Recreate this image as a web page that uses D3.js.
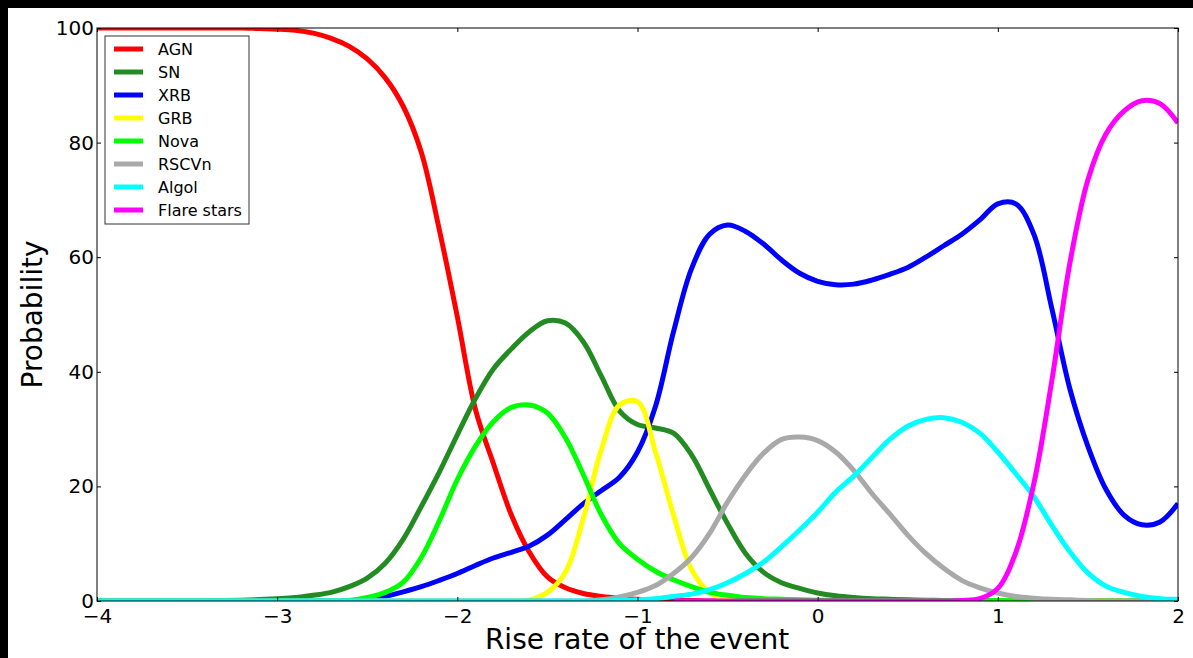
<!DOCTYPE html>
<html>
<head>
<meta charset="utf-8">
<script src="https://cdn.jsdelivr.net/npm/d3@7"></script>
<style>
  html, body { margin: 0; padding: 0; background: #000; }
  svg { display: block; }
  text { font-family: "DejaVu Sans", sans-serif; fill: #000; }
</style>
</head>
<body>
<svg width="1193" height="658"></svg>
<script>
// sample positions on the rise-rate axis
var xs = [-4.0,-3.9,-3.8,-3.7,-3.6,-3.5,-3.4,-3.3,-3.2,-3.1,
          -3.0,-2.9,-2.8,-2.7,-2.6,-2.5,-2.4,-2.3,-2.2,-2.1,
          -2.0,-1.9,-1.8,-1.7,-1.6,-1.5,-1.4,-1.3,-1.2,-1.1,
          -1.0,-0.9,-0.8,-0.7,-0.6,-0.5,-0.4,-0.3,-0.2,-0.1,
           0.0, 0.1, 0.2, 0.3, 0.4, 0.5, 0.6, 0.7, 0.8, 0.9,
           1.0, 1.1, 1.2, 1.3, 1.4, 1.5, 1.6, 1.7, 1.8, 1.9, 2.0];

var agn = [100,100,100,100,100,100,100,100,100,99.9,
           99.8,99.6,99.1,98.2,96.8,94.6,91.3,86.3,78.3,64.8,
           49.6,33.5,24,15,8.5,4.2,2.3,1.3,0.8,0.5,
           0.3,0.2,0.1,0.1,0,0,0,0,0,0,
           0,0,0,0,0,0,0,0,0,0,
           0,0,0,0,0,0,0,0,0,0,0];

var sn = [0,0,0,0,0,0,0.05,0.1,0.15,0.25,
          0.4,0.6,1.0,1.5,2.5,4,6.6,10.8,16.5,22.5,
          29,35.3,40.5,44,47,48.9,48.5,45.2,39.2,33.2,
          30.8,30.2,29.3,25.5,19.5,13.5,8.3,5,3.2,2.2,
          1.4,0.9,0.6,0.4,0.3,0.2,0.15,0.1,0.1,0.05,
          0,0,0,0,0,0,0,0,0,0,0];

var xrb = [0,0,0,0,0,0,0,0,0,0,
           0,0,0,0,0,0.2,0.8,1.6,2.5,3.6,
           4.8,6.2,7.5,8.5,9.6,11.5,14.2,17,19.3,21.6,
           26,34,47,58,64,65.6,64.5,62.3,59.5,57.2,
           55.8,55.2,55.3,56,57,58.2,60,62,64,66.5,
           69.3,69.3,64,51,37,27,19.5,15,13.3,13.8,17];

var grb = [0,0,0,0,0,0,0,0,0,0,
           0,0,0,0,0,0,0,0,0,0,
           0,0,0,0,0.2,1.5,5,14.5,26.5,34.2,
           34.8,26,15,5.5,1.5,0.3,0,0,0,0,
           0,0,0,0,0,0,0,0,0,0,
           0,0,0,0,0,0,0,0,0,0,0];

var nova = [0,0,0,0,0,0,0,0,0,0,
            0,0,0,0,0.1,0.6,1.5,3.3,7.6,14,
            21.2,27,31.3,33.8,34.2,32.8,28.5,22,15,10,
            7.3,5.2,3.7,2.5,1.5,1,0.6,0.4,0.3,0.2,
            0.15,0.1,0.1,0.1,0.1,0.1,0.1,0.1,0.1,0.1,
            0.1,0.05,0,0,0,0,0,0,0,0,0];

var rscvn = [0,0,0,0,0,0,0,0,0,0,
             0,0,0,0,0,0,0,0,0,0,
             0,0,0,0,0,0,0,0,0.2,0.7,
             1.5,2.7,4.8,7.6,11.8,17.3,22,25.8,28.2,28.6,
             28,26,22.8,18.8,15.2,11.5,8.3,5.7,3.6,2.3,
             1.4,0.8,0.5,0.3,0.2,0.1,0,0,0,0,0];

var algol = [0,0,0,0,0,0,0,0,0,0,
             0,0,0,0,0,0,0,0,0,0,
             0,0,0,0,0,0,0,0,0,0.1,
             0.2,0.4,0.8,1.2,2,3.2,4.8,6.8,9.5,12.4,
             15.5,19,21.8,25,28.2,30.5,31.7,32,31.2,29.3,
             26,22.2,18.2,13.2,8.6,4.9,2.6,1.5,0.8,0.4,0.3];

// flare stars curve only covers the right part of the range
var flare = [null,null,null,null,null,null,null,null,null,null,
             null,null,null,null,null,null,null,null,null,null,
             null,null,null,null,null,null,null,null,null,null,
             null,null,0,0,0,0,0,0,0,0,
             0,0,0,0,0,0,0,0,0.1,0.4,
             2.2,8.5,20.5,38.5,59,73.5,81.5,85.5,87.3,86.8,83.4];

var seriesNames = ["AGN", "SN", "XRB", "GRB", "Nova", "RSCVn", "Algol", "Flare stars"];
var seriesValues = [agn, sn, xrb, grb, nova, rscvn, algol, flare];
var seriesColors = ["#ff0000", "#228b22", "#0000ff", "#ffff00", "#00ff00", "#a9a9a9", "#00ffff", "#ff00ff"];

var xTicks = [-4, -3, -2, -1, 0, 1, 2];
var yTicks = [0, 20, 40, 60, 80, 100];

var svg = d3.select("svg"),
    margin = {top: 28, right: 15, bottom: 57, left: 97},
    width = +svg.attr("width") - margin.left - margin.right,
    height = +svg.attr("height") - margin.top - margin.bottom;

// figure background (black border on top/left like the source)
svg.append("rect").attr("x", 8).attr("y", 8)
    .attr("width", 1193 - 8).attr("height", 658 - 8)
    .attr("fill", "#fff");

var g = svg.append("g").attr("transform", "translate(" + margin.left + "," + margin.top + ")");

var scaleX = d3.scaleLinear().domain([-4, 2]).range([0, width]),
    scaleY = d3.scaleLinear().domain([0, 100]).range([height, 0]);

g.append("clipPath").attr("id", "plotClip")
    .append("rect").attr("width", width).attr("height", height);

var data = seriesNames.map(function (name, i) {
    return {
        id: name,
        color: seriesColors[i],
        values: xs.map(function (x, j) { return {x: x, y: seriesValues[i][j]}; })
    };
});

var line = d3.line()
    .defined(function (d) { return d.y !== null; })
    .curve(d3.curveCatmullRom.alpha(0.5))
    .x(function (d) { return scaleX(d.x); })
    .y(function (d) { return scaleY(d.y); });

g.append("g").attr("clip-path", "url(#plotClip)")
    .selectAll(".series")
    .data(data)
    .enter().append("path")
    .attr("class", "series")
    .attr("fill", "none")
    .attr("stroke", function (d) { return d.color; })
    .attr("stroke-width", 5)
    .attr("stroke-linejoin", "round")
    .attr("d", function (d) { return line(d.values); });

// frame
g.append("rect").attr("width", width).attr("height", height)
    .attr("fill", "none").attr("stroke", "#000").attr("stroke-width", 1);

var fmt = function (d) { return d < 0 ? "\u2212" + Math.abs(d) : "" + d; };

// axes with inward ticks
var axisBottom = g.append("g").attr("transform", "translate(0," + height + ")")
    .call(d3.axisBottom(scaleX).tickValues(xTicks).tickSize(-4).tickPadding(7).tickFormat(fmt));
var axisTop = g.append("g")
    .call(d3.axisTop(scaleX).tickValues(xTicks).tickSize(-4).tickFormat(""));
var axisLeft = g.append("g")
    .call(d3.axisLeft(scaleY).tickValues(yTicks).tickSize(-4).tickPadding(3).tickFormat(fmt));
var axisRight = g.append("g").attr("transform", "translate(" + width + ",0)")
    .call(d3.axisRight(scaleY).tickValues(yTicks).tickSize(-4).tickFormat(""));

[axisBottom, axisTop, axisLeft, axisRight].forEach(function (a) {
    a.select(".domain").remove();
    a.selectAll("line").attr("stroke", "#000");
    a.selectAll("text").style("font-family", "'DejaVu Sans', sans-serif")
        .style("font-size", "20px").attr("fill", "#000");
});
axisBottom.selectAll("text").attr("dy", "0.75em");

// axis labels
svg.append("text")
    .attr("x", margin.left + width / 2 - 0.5).attr("y", 649)
    .attr("text-anchor", "middle")
    .style("font-size", "28px")
    .text("Rise rate of the event");

svg.append("text")
    .attr("transform", "translate(42," + (margin.top + height / 2) + ") rotate(-90)")
    .attr("text-anchor", "middle")
    .style("font-size", "28px")
    .text("Probability");

// legend
var legend = svg.append("g").attr("transform", "translate(105,36)");
legend.append("rect").attr("width", 144).attr("height", 188)
    .attr("fill", "#fff").attr("stroke", "#333").attr("stroke-width", 1);

var rows = legend.selectAll(".row").data(data).enter().append("g")
    .attr("class", "row")
    .attr("transform", function (d, i) { return "translate(0," + (13 + i * 23) + ")"; });
rows.append("line").attr("x1", 9).attr("x2", 38)
    .attr("stroke", function (d) { return d.color; }).attr("stroke-width", 5);
rows.append("text").attr("x", 53).attr("dy", "0.35em")
    .style("font-size", "16px")
    .text(function (d) { return d.id; });
</script>
</body>
</html>
